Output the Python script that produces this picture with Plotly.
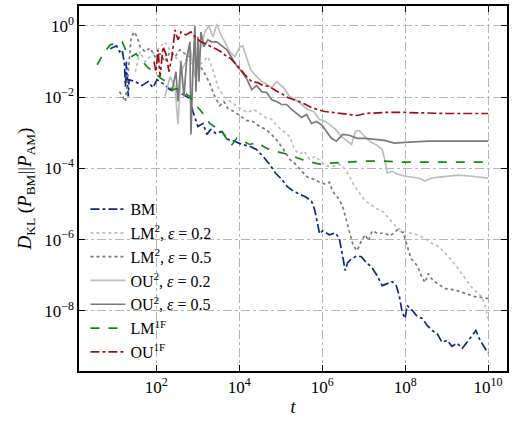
import plotly.graph_objects as go

# ---------------- data ----------------
bm_t = [7.7, 11, 13, 15, 17, 18, 19, 21, 22, 31, 45, 63, 83, 104, 145, 213, 333, 490, 646, 762,
        1007, 1330, 1660, 2070, 2720, 3800, 5300, 7800, 1.15e4, 1.79e4, 2.6e4, 3.7e4, 5.4e4, 7.5e4,
        1.05e5, 1.47e5, 2.0e5, 2.8e5, 4.0e5, 5.5e5, 6.5e5, 7.7e5, 8.6e5, 1.02e6, 1.5e6, 2.1e6, 2.6e6,
        3.1e6, 3.6e6, 4.1e6, 5.1e6, 7.0e6, 8.8e6, 1.16e7, 1.53e7, 2.1e7, 2.8e7, 3.7e7, 4.9e7, 6.1e7,
        7.2e7, 8.5e7, 1.0e8, 1.12e8, 1.48e8, 1.95e8, 2.6e8, 3.4e8, 4.5e8, 5.9e8, 7.8e8, 1.03e9,
        1.35e9, 1.79e9, 2.4e9, 3.1e9, 4.1e9, 5.1e9, 6.4e9, 7.9e9, 1.0e10]
bm_D = [0.228, 0.276, 0.188, 0.214, 0.087, 0.0198, 0.099, 0.0104, 0.031, 0.0273, 0.0211, 0.0273,
        0.0185, 0.031, 0.024, 0.0163, 0.0143, 0.0111, 0.0091, 0.00396, 0.00151, 0.00183, 9.0e-4,
        0.00124, 9.6e-4, 0.00109, 6.5e-4, 5.8e-4, 4.7e-4, 4.2e-4, 3.4e-4, 2.2e-4, 1.31e-4, 7.3e-5,
        5.0e-5, 3.0e-5, 2.3e-5, 1.9e-5, 1.57e-5, 1.21e-5, 7.3e-6, 2.95e-6, 1.46e-6, 1.76e-6, 1.36e-6,
        1.55e-6, 1.05e-6, 3.5e-7, 1.35e-7, 2.25e-7, 2.9e-7, 3.5e-7, 3.3e-7, 2.25e-7, 1.74e-7, 9.8e-8,
        5.1e-8, 5.8e-8, 6.6e-8, 5.1e-8, 2.7e-8, 9.0e-9, 6.1e-9, 1.42e-8, 1.03e-8, 7.0e-9, 6.1e-9,
        3.9e-9, 2.8e-9, 2.3e-9, 1.31e-9, 1.49e-9, 1.01e-9, 1.23e-9, 8.9e-10, 1.31e-9, 1.93e-9,
        2.8e-9, 1.49e-9, 1.01e-9, 6.5e-10]

lm2_02_t = [31, 40.6, 53.5, 70.6, 93, 123, 162, 213, 282, 372, 518, 721, 1007, 1330, 1750, 2310,
            3040, 4240, 5920, 8240, 1.15e4, 1.6e4, 2.23e4, 3.11e4, 4.34e4, 6.0e4, 8.4e4, 1.17e5,
            1.64e5, 2.16e5, 2.8e5, 3.76e5, 4.96e5, 6.9e5, 1.0e6, 1.34e6, 1.87e6, 2.6e6, 3.6e6, 4.5e6,
            6.0e6, 7.9e6, 1.1e7, 1.53e7, 2.1e7, 2.98e7, 4.15e7, 5.8e7, 8.1e7, 1.26e8, 1.95e8, 2.9e8,
            4.2e8, 6.6e8, 9.7e8, 1.35e9, 1.9e9, 2.78e9, 3.88e9, 5.4e9, 7.1e9, 8.4e9, 1.0e10]
lm2_02_D = [0.0519, 0.188, 0.099, 0.136, 0.188, 0.259, 0.357, 0.214, 0.136, 0.099, 0.112, 0.087,
            0.0716, 0.099, 0.136, 0.059, 0.0198, 0.0104, 0.00754, 0.00583, 0.00451, 0.00372, 0.00451,
            0.00348, 0.00269, 0.00237, 0.00151, 0.00109, 7.9e-4, 3.4e-4, 2.5e-4, 3.0e-4, 1.81e-4,
            2.2e-4, 1.4e-4, 1.15e-4, 1.15e-4, 1.31e-4, 9.5e-5, 6.1e-5, 3.2e-5, 2.03e-5, 1.21e-5,
            9.4e-6, 7.3e-6, 6.0e-6, 3.8e-6, 2.43e-6, 1.76e-6, 1.55e-6, 1.36e-6, 1.12e-6, 8.1e-7,
            6.3e-7, 4.0e-7, 2.56e-7, 1.53e-7, 8.1e-8, 4.8e-8, 3.3e-8, 2.5e-8, 1.42e-8, 6.1e-9]

lm2_05_t = [13, 18, 21, 24.7, 29.1, 34.4, 40.6, 53.5, 70.6, 93, 123, 162, 213, 282, 372, 490, 646,
            851, 1120, 1480, 1950, 2580, 3400, 4240, 5300, 7380, 1.03e4, 1.51e4, 2.11e4, 3.11e4,
            4.34e4, 6.0e4, 8.4e4, 1.17e5, 1.64e5, 2.28e5, 3.18e5, 4.4e5, 6.2e5, 8.6e5, 1.2e6, 1.5e6,
            1.77e6, 2.33e6, 3.1e6, 3.8e6, 4.5e6, 5.6e6, 7.0e6, 8.8e6, 1.1e7, 1.3e7, 1.62e7, 2.26e7,
            3.1e7, 4.4e7, 6.5e7, 9.0e7, 1.12e8, 1.4e8, 1.95e8, 2.44e8, 3.0e8, 3.6e8, 4.7e8, 6.6e8,
            9.2e8, 1.28e9, 1.79e9, 2.36e9, 3.5e9, 4.8e9, 6.7e9, 1.0e10]
lm2_05_D = [0.0143, 0.00754, 0.0519, 0.462, 0.68, 0.493, 0.259, 0.188, 0.243, 0.136, 0.165, 0.099,
            0.188, 0.136, 0.214, 0.165, 0.136, 0.087, 0.0763, 0.0456, 0.024, 0.0104, 0.00583,
            0.00754, 0.00481, 0.00396, 0.00306, 0.00222, 0.00208, 0.00151, 0.00124, 9.0e-4, 5.8e-4,
            3.4e-4, 1.81e-4, 1.31e-4, 8.4e-5, 5.7e-5, 5.0e-5, 4.1e-5, 3.6e-5, 4.1e-5, 2.3e-5,
            1.57e-5, 8.8e-6, 3.4e-6, 1.55e-6, 6.7e-7, 4.9e-7, 9.3e-7, 1.36e-6, 9.3e-7, 1.76e-6,
            1.46e-6, 1.55e-6, 1.28e-6, 1.88e-6, 1.55e-6, 6.7e-7, 2.9e-7, 1.86e-7, 9.8e-8, 6.2e-8,
            1.11e-7, 7.1e-8, 5.5e-8, 4.2e-8, 4.0e-8, 3.7e-8, 3.3e-8, 2.9e-8, 2.5e-8, 2.4e-8, 2.2e-8]

ou2_02_t = [162, 213, 282, 333, 393, 518, 646, 851, 1120, 1480, 1850, 2310, 2880, 3590, 4490, 5920,
            7800, 1.03e4, 1.21e4, 1.51e4, 1.89e4, 2.5e4, 3.48e4, 4.34e4, 6.0e4, 7.96e4, 1.17e5,
            1.64e5, 2.28e5, 3.18e5, 4.4e5, 6.2e5, 8.6e5, 1.2e6, 1.67e6, 2.1e6, 2.9e6, 4.1e6, 5.1e6,
            6.3e6, 7.9e6, 1.1e7, 1.53e7, 2.1e7, 2.8e7, 3.3e7, 3.7e7, 4.9e7, 6.5e7, 9.5e7, 1.4e8,
            2.2e8, 3.0e8, 4.2e8, 6.6e8, 1.15e9, 1.9e9, 3.5e9, 6.0e9, 1.0e10]
ou2_02_D = [0.0104, 0.0376, 0.0198, 0.00172, 0.0519, 0.099, 0.259, 0.0376, 0.188, 0.68, 1.0, 0.493,
            1.14, 0.561, 0.357, 0.188, 0.136, 0.259, 0.276, 0.136, 0.059, 0.0401, 0.0273, 0.024,
            0.0185, 0.0273, 0.0185, 0.0104, 0.00857, 0.00622, 0.00451, 0.00396, 0.00237, 0.00208,
            0.00151, 0.00124, 7.9e-4, 5.8e-4, 4.7e-4, 0.00109, 0.00117, 7.4e-4, 5.4e-4, 4.45e-4,
            3.4e-4, 1.59e-4, 7.3e-5, 8.4e-5, 6.9e-5, 6.1e-5, 5.7e-5, 5.3e-5, 4.4e-5, 5.3e-5, 5.7e-5,
            6.1e-5, 6.5e-5, 6.1e-5, 5.7e-5, 5.3e-5]

ou2_05_t = [238, 297, 333, 393, 463, 547, 646, 683, 762, 851, 900, 1007, 1065, 1190, 1400, 1750,
            2180, 2880, 3800, 5010, 6610, 8710, 1.15e4, 1.51e4, 2.0e4, 2.6e4, 3.48e4, 4.58e4, 6.0e4,
            7.97e4, 1.05e5, 1.39e5, 1.83e5, 2.41e5, 3.18e5, 4.2e5, 5.5e5, 7.3e5, 1.0e6, 1.27e6,
            1.67e6, 2.21e6, 3.1e6, 4.5e6, 7.0e6, 1.1e7, 1.8e7, 3.2e7, 5.5e7, 1.0e8, 3.6e8, 1.9e9,
            1.0e10]
ou2_05_D = [0.0143, 0.0519, 0.00754, 0.099, 0.0104, 0.136, 0.357, 9.0e-4, 0.0519, 1.0, 0.0143,
            0.493, 0.0273, 0.68, 0.259, 0.406, 0.357, 0.357, 0.276, 0.214, 0.128, 0.0763, 0.0519,
            0.0331, 0.0163, 0.0211, 0.0143, 0.0135, 0.00857, 0.00754, 0.00622, 0.00622, 0.00451,
            0.00348, 0.00269, 0.00327, 0.00183, 0.00208, 0.00161, 0.00109, 7.0e-4, 5.8e-4, 9.0e-4,
            8.5e-4, 7.0e-4, 7.0e-4, 6.5e-4, 6.1e-4, 5.1e-4, 5.4e-4, 5.8e-4, 5.8e-4, 5.8e-4]

lm1f_t = [3.75, 5.2, 7.7, 11, 15, 19, 24.7, 32.5, 42.9, 59.7, 83, 123, 171, 238, 333, 490, 646,
          851, 1120, 1480, 1950, 2440, 3400, 4740, 6250, 8710, 1.21e4, 1.79e4, 2.79e4, 4.1e4, 6.0e4,
          9.4e4, 1.47e5, 2.28e5, 3.55e5, 5.5e5, 8.6e5, 1.5e6, 3.4e6, 1.0e7, 3.2e7, 1.0e8, 1.0e9,
          1.0e10]
lm1f_D = [0.0814, 0.165, 0.294, 0.335, 0.357, 0.188, 0.136, 0.165, 0.112, 0.0716, 0.0519, 0.0353,
          0.0273, 0.0163, 0.0174, 0.0126, 0.0104, 0.00622, 0.00451, 0.00287, 0.00183, 0.00151,
          0.00133, 7.4e-4, 4.2e-4, 7.0e-4, 5.8e-4, 4.7e-4, 5.4e-4, 3.9e-4, 3.2e-4, 2.84e-4, 2.5e-4,
          2.06e-4, 1.7e-4, 1.49e-4, 1.31e-4, 1.4e-4, 1.49e-4, 1.59e-4, 1.59e-4, 1.49e-4, 1.49e-4,
          1.49e-4]

ou1f_t = [88, 98, 110, 123, 145, 171, 202, 238, 282, 333, 393, 518, 683, 900, 1190, 1570, 2070,
          2720, 3590, 4740, 6250, 8240, 1.09e4, 1.43e4, 2.0e4, 2.79e4, 3.88e4, 5.4e4, 7.5e4,
          1.05e5, 1.47e5, 2.0e5, 2.8e5, 4.0e5, 5.5e5, 7.7e5, 1.13e6, 1.77e6, 2.75e6, 4.5e6, 7.0e6,
          1.1e7, 3.2e7, 1.0e8, 1.0e9, 1.0e10]
ou1f_D = [0.099, 0.0519, 0.214, 0.0376, 0.259, 0.165, 0.0519, 0.136, 0.773, 0.406, 0.68, 0.561,
          0.68, 0.462, 0.357, 0.314, 0.259, 0.228, 0.188, 0.145, 0.12, 0.087, 0.059, 0.0401, 0.0273,
          0.0256, 0.0211, 0.0198, 0.0153, 0.0126, 0.00975, 0.00857, 0.00754, 0.00622, 0.00513,
          0.00451, 0.00396, 0.00372, 0.00348, 0.00327, 0.00306, 0.00348, 0.00372, 0.00372, 0.00348,
          0.00348]

x_tickvals = [1e2, 1e4, 1e6, 1e8, 1e10]
x_ticktext = ["10<sup>2</sup>", "10<sup>4</sup>", "10<sup>6</sup>", "10<sup>8</sup>", "10<sup>10</sup>"]
y_tickvals = [1e0, 1e-2, 1e-4, 1e-6, 1e-8]
y_ticktext = ["10<sup>0</sup>", "10<sup>\u22122</sup>", "10<sup>\u22124</sup>", "10<sup>\u22126</sup>",
              "10<sup>\u22128</sup>"]

series = [
    ("BM", bm_t, bm_D, "#0c2a8a", "dashdot"),
    ("LM<sup>2</sup>, <i>\u03b5</i> = 0.2", lm2_02_t, lm2_02_D, "#bdbdbd", "dot"),
    ("LM<sup>2</sup>, <i>\u03b5</i> = 0.5", lm2_05_t, lm2_05_D, "#7a7a7a", "dot"),
    ("OU<sup>2</sup>, <i>\u03b5</i> = 0.2", ou2_02_t, ou2_02_D, "#bdbdbd", "solid"),
    ("OU<sup>2</sup>, <i>\u03b5</i> = 0.5", ou2_05_t, ou2_05_D, "#7a7a7a", "solid"),
    ("LM<sup>1F</sup>", lm1f_t, lm1f_D, "#138a13", "dash"),
    ("OU<sup>1F</sup>", ou1f_t, ou1f_D, "#a01010", "dashdot"),
]

fig = go.Figure()
for name, t, d, color, dash in series:
    fig.add_trace(go.Scatter(x=t, y=d, mode="lines", name=name,
                             line=dict(color=color, width=1.7, dash=dash)))

font_family = "Liberation Serif, DejaVu Serif, serif"
axis_common = dict(type="log", showline=True, linecolor="black", linewidth=1.5, mirror="ticks",
                   ticks="inside", ticklen=6, tickwidth=1.3, tickcolor="black",
                   showgrid=True, gridcolor="#b5b5b5", gridwidth=0.9, griddash="dashdot",
                   zeroline=False, tickfont=dict(family=font_family, size=17, color="black"))

fig.update_xaxes(range=[0.135, 10.457], tickvals=x_tickvals, ticktext=x_ticktext,
                 title=dict(text="<i>t</i>", font=dict(family=font_family, size=18, color="black"),
                            standoff=4), **axis_common)
fig.update_yaxes(range=[-9.69, 0.56], tickvals=y_tickvals, ticktext=y_ticktext,
                 title=dict(text="<i>D</i><sub>KL</sub> (<i>P</i><sub>BM</sub>||<i>P</i><sub>AM</sub>)",
                            font=dict(family=font_family, size=19, color="black"), standoff=8),
                 **axis_common)

fig.update_layout(
    width=513, height=426,
    margin=dict(l=79, r=5, t=4, b=55),
    plot_bgcolor="white", paper_bgcolor="white",
    font=dict(family=font_family, color="black"),
    showlegend=True,
    legend=dict(x=0.015, y=0.49, xanchor="left", yanchor="top", bgcolor="rgba(0,0,0,0)",
                borderwidth=0, font=dict(family=font_family, size=16, color="black"),
                tracegroupgap=0, itemwidth=35),
)

fig.write_html("out.html")
